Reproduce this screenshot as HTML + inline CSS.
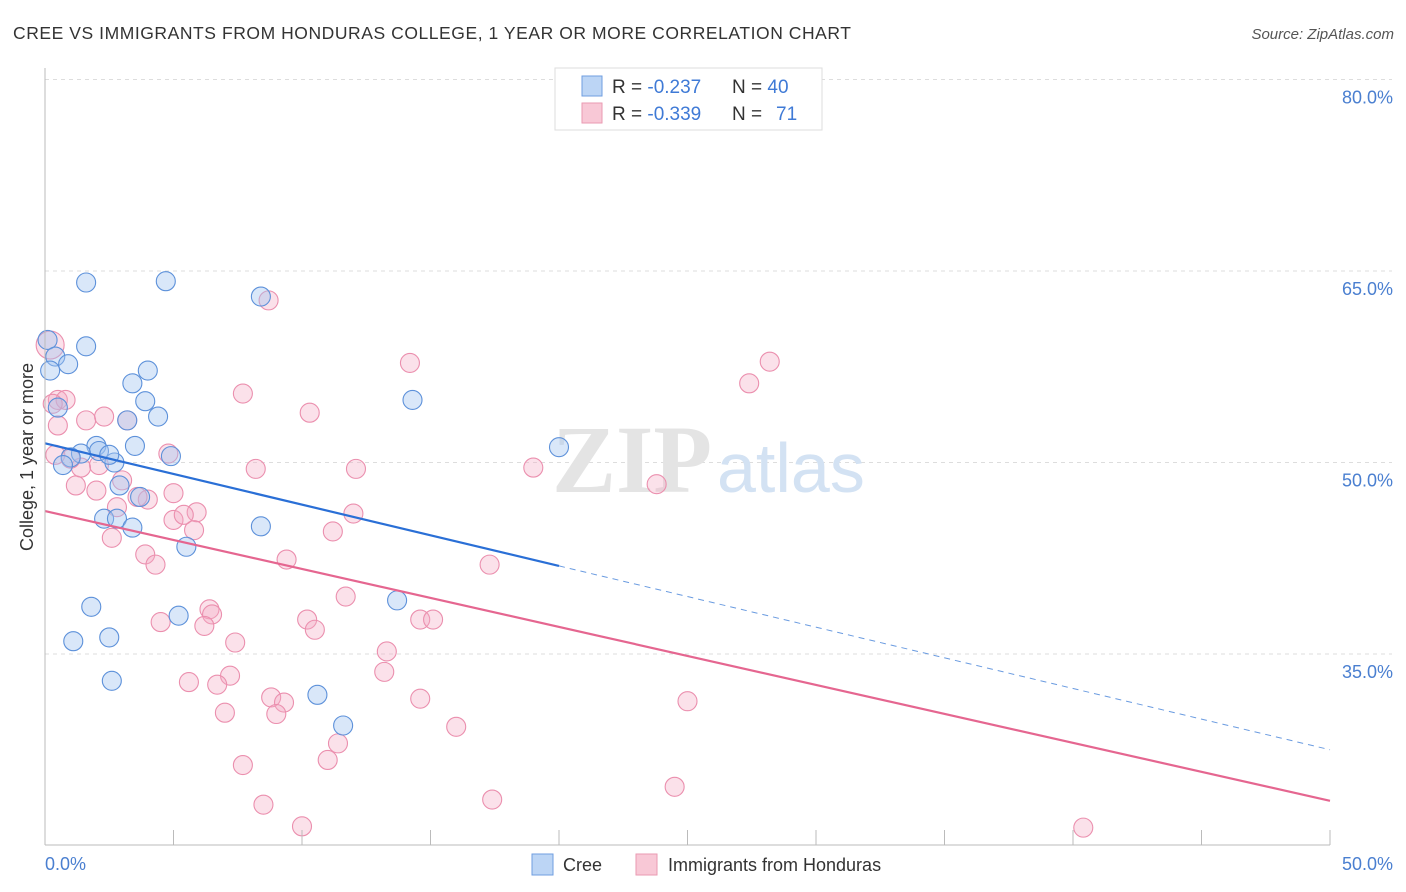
<!DOCTYPE html>
<html><head><meta charset="utf-8">
<style>
body{margin:0;background:#fff;font-family:"Liberation Sans",sans-serif;}
</style></head>
<body>
<svg id="chart" width="1406" height="892" xmlns="http://www.w3.org/2000/svg" style="display:block">
<text x="13" y="39" font-size="17.5" fill="#333" font-family="Liberation Sans" textLength="838" lengthAdjust="spacing">CREE VS IMMIGRANTS FROM HONDURAS COLLEGE, 1 YEAR OR MORE CORRELATION CHART</text>
<text x="1394" y="39" font-size="15" fill="#555" font-style="italic" text-anchor="end">Source: ZipAtlas.com</text>
<g id="grid"></g>
<text x="552" y="492" font-size="96" fill="#e4e4e4" font-family="Liberation Serif" font-weight="bold">ZIP</text>
<text x="717" y="492" font-size="70" fill="#d3e2f3">atlas</text>
<g id="marks"></g>
<g id="trends"></g>
<line x1="45" y1="68" x2="45" y2="845" stroke="#bbb" stroke-width="1"/>
<line x1="45" y1="845" x2="1330" y2="845" stroke="#bbb" stroke-width="1"/>
<g id="ticks"></g>
<text transform="translate(33,457) rotate(-90)" font-size="18" fill="#333" text-anchor="middle">College, 1 year or more</text>
<text x="45" y="870" font-size="18" fill="#4a7fd0">0.0%</text>
<text x="1393" y="870" font-size="18" fill="#4a7fd0" text-anchor="end">50.0%</text>
<g>
<rect x="555" y="68" width="267" height="62" fill="#fff" stroke="#ddd"/>
<rect x="582" y="76" width="20" height="20" fill="#bcd5f5" stroke="#6f9ee0"/>
<rect x="582" y="103" width="20" height="20" fill="#f8c8d6" stroke="#ea9ab2"/>
<text x="612" y="93" font-size="19" fill="#333">R = <tspan fill="#3f7ad6">-0.237</tspan><tspan x="732">N = </tspan><tspan fill="#3f7ad6">40</tspan></text>
<text x="612" y="120" font-size="19" fill="#333">R = <tspan fill="#3f7ad6">-0.339</tspan><tspan x="732">N = </tspan><tspan fill="#3f7ad6" x="776">71</tspan></text>
</g>
<g>
<rect x="532" y="854" width="21" height="21" fill="#bcd5f5" stroke="#6f9ee0"/>
<text x="563" y="871" font-size="18" fill="#333">Cree</text>
<rect x="636" y="854" width="21" height="21" fill="#f8c8d6" stroke="#ea9ab2"/>
<text x="668" y="871" font-size="18" fill="#333">Immigrants from Honduras</text>
</g>
</svg>
<script>
const yTicks=[80,65,50,35];
const yTickLabels=["80.0%","65.0%","50.0%","35.0%"];
const xTicks=[0,5,10,15,20,25,30,35,40,45,50];
const creeX=[1.6,4.7,8.4,0.1,0.4,1.6,0.9,4.0,3.4,0.5,3.9,4.4,3.2,2.0,3.5,2.1,1.4,1.0,0.7,2.7,4.9,2.9,3.7,2.3,2.8,3.4,8.4,5.5,14.3,20.0,1.8,5.2,1.1,2.5,2.6,13.7,10.6,11.6,0.2,2.5];
const creeY=[64.1,64.2,63.0,59.6,58.3,59.1,57.7,57.2,56.2,54.3,54.8,53.6,53.3,51.3,51.3,50.9,50.7,50.4,49.8,50.0,50.5,48.2,47.3,45.6,45.6,44.9,45.0,43.4,54.9,51.2,38.7,38.0,36.0,36.3,32.9,39.2,31.8,29.4,57.2,50.6];
const hondX=[0.2,8.7,0.5,0.8,0.5,1.6,2.3,3.2,7.7,10.3,14.2,28.2,27.4,19.0,23.8,4.8,1.2,2.1,1.4,3.0,2.0,2.8,4.0,3.6,5.0,5.9,5.0,5.4,5.8,2.6,3.9,4.3,8.2,12.1,12.0,11.2,9.4,17.3,6.4,6.5,4.5,6.2,10.2,10.5,11.7,14.6,15.1,7.4,13.3,7.2,5.6,6.7,13.2,8.8,9.3,9.0,7.0,14.6,16.0,25.0,11.4,11.0,7.7,8.5,17.4,24.5,10.0,40.4,0.4,1.0,0.3];
const hondY=[59.2,62.7,54.9,54.9,52.9,53.3,53.6,53.3,55.4,53.9,57.8,57.9,56.2,49.6,48.3,50.7,48.2,49.8,49.6,48.6,47.8,46.5,47.1,47.3,47.6,46.1,45.5,45.9,44.7,44.1,42.8,42.0,49.5,49.5,46.0,44.6,42.4,42.0,38.5,38.1,37.5,37.2,37.7,36.9,39.5,37.7,37.7,35.9,35.2,33.3,32.8,32.6,33.6,31.6,31.2,30.3,30.4,31.5,29.3,31.3,28.0,26.7,26.3,23.2,23.6,24.6,21.5,21.4,50.6,50.3,54.6];
const creeTrend=[0,51.5,50,27.5];
const hondTrend=[0,46.2,50,23.5];
const creeSolidEnd=20;

const X=v=>45+v/50*1285;
const Y=v=>79.5+(80-v)/15*191.5;
const NS="http://www.w3.org/2000/svg";
function mk(t,a,p){const e=document.createElementNS(NS,t);for(const k in a)e.setAttribute(k,a[k]);p.appendChild(e);return e;}
const grid=document.getElementById('grid'),marks=document.getElementById('marks'),trends=document.getElementById('trends'),ticks=document.getElementById('ticks');
yTicks.forEach((v,i)=>{
 const l=mk('line',{x1:45,x2:1392,y1:Y(v),y2:Y(v),stroke:'#ddd','stroke-dasharray':'4,4'},grid);
 
 
 const t=mk('text',{x:1393,y:Y(v)+24,'font-size':18,fill:'#4a7fd0','text-anchor':'end'},grid);
 t.textContent=yTickLabels[i];
 
 
});
xTicks.forEach(v=>{
 const l=mk('line',{x1:X(v),x2:X(v),y1:830,y2:845,stroke:'#bbb'},ticks);
 
 
});
hondX.forEach((v,i)=>{
 const c=mk('circle',{cx:X(v),cy:Y(hondY[i]),r:(i===0?14:9.5),fill:'rgba(244,170,195,0.35)',stroke:'#eb8fae','stroke-width':1.1},marks);
 
 
});
creeX.forEach((v,i)=>{
 const c=mk('circle',{cx:X(v),cy:Y(creeY[i]),r:9.5,fill:'rgba(160,195,240,0.4)',stroke:'#5d91da','stroke-width':1.1},marks);
 
 
});
const cy=x=>creeTrend[1]+(creeTrend[3]-creeTrend[1])*(x-creeTrend[0])/(creeTrend[2]-creeTrend[0]);
let l1=mk('line',{x1:X(creeTrend[0]),y1:Y(creeTrend[1]),x2:X(creeSolidEnd),y2:Y(cy(creeSolidEnd)),stroke:'#2a6fd6','stroke-width':2.2},trends);


let l2=mk('line',{x1:X(creeSolidEnd),y1:Y(cy(creeSolidEnd)),x2:X(creeTrend[2]),y2:Y(creeTrend[3]),stroke:'#6a9be0','stroke-width':1,'stroke-dasharray':'6,5'},trends);


let l3=mk('line',{x1:X(hondTrend[0]),y1:Y(hondTrend[1]),x2:X(hondTrend[2]),y2:Y(hondTrend[3]),stroke:'#e56690','stroke-width':2.2},trends);


</script>
</body></html>
